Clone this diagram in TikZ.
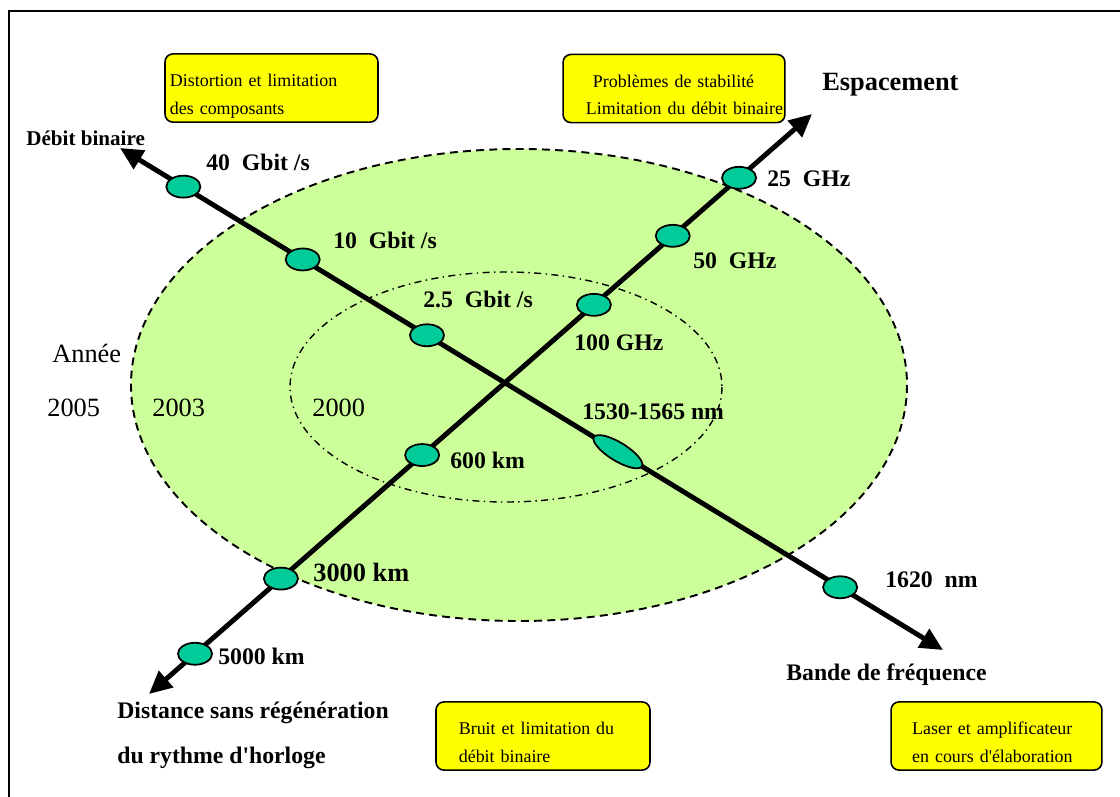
\documentclass[tikz,border=0pt]{standalone}
\usepackage{fontspec}
\setmainfont{Liberation Serif}
\usetikzlibrary{shapes.geometric,arrows.meta}
\definecolor{zone}{RGB}{204,255,153}
\definecolor{marker}{RGB}{0,204,153}
\definecolor{note}{RGB}{255,255,0}
\def\boxtop{\rule{0pt}{16.8pt}}
\def\boxbot{\rule[-2.6pt]{0pt}{0pt}}

\begin{document}
\begin{tikzpicture}[x=0.02cm,y=-0.02cm]
      \tikzstyle{axis}=[line width=2.8pt,{Triangle[length=13pt,width=12pt]}-{Triangle[length=13pt,width=12pt]}]
      \tikzstyle{point node}=[ellipse,draw,fill=marker,line width=1pt,minimum width=19.4pt,minimum height=12.5pt,inner sep=0pt]
      \tikzstyle{annot}=[anchor=west,inner sep=0pt,font=\bfseries\fontsize{13.5}{16}\selectfont]
      \tikzstyle{big annot}=[annot,font=\bfseries\fontsize{15}{18}\selectfont]
      \tikzstyle{year}=[anchor=west,inner sep=0pt,font=\fontsize{15}{18}\selectfont]
      \tikzstyle{note box}=[draw,fill=note,rounded corners=4.5pt,line width=0.9pt,align=left,inner ysep=2pt,minimum height=38.7pt,font=\fontsize{10.2}{15.4}\selectfont]

      \clip (0,0) rectangle (1120,796);
      \draw[line width=1.1pt] (9,11) rectangle (1140,820);

      % Draw the year zones
      \draw[fill=zone,line width=1.1pt,dash pattern=on 4.5pt off 3pt] (519,385) ellipse [x radius=388,y radius=236];
      \draw[line width=0.8pt,dash pattern=on 4pt off 2.5pt on 0.8pt off 2.5pt] (506,387) ellipse [x radius=216,y radius=115];

      \node[year] (year) at (52,353) {Année};
      \node[year] (y-2005) at (47,408) {2005};
      \node[year] (y-2003) at (152,408) {2003};
      \node[year] (y-2000) at (312,408) {2000};

      % Draw the two axes
      \coordinate (deb) at (120,148);
      \coordinate (bande) at (943,650);
      \coordinate (dist) at (149,694);
      \coordinate (esp) at (812,114);
      \draw[axis] (deb) -- (bande);
      \draw[axis] (dist) -- (esp);

      % Put the markers on the bit rate / band axis
      \foreach \name / \p in {1/0.077,2/0.222,3/0.373,5/0.875}
          \path (deb) -- (bande) node[point node,pos=\p] (B-\name) {};
      \path (deb) -- (bande) node[point node,pos=0.605,rotate=-31.4,minimum width=32pt,minimum height=10.5pt] (B-4) {};

      % Put the markers on the distance / spacing axis
      \foreach \name / \p in {1/0.0694,2/0.199,3/0.412,4/0.671,5/0.790,6/0.890}
          \path (dist) -- (esp) node[point node,pos=\p] (D-\name) {};

      % Annotate the markers
      \node[annot] (l-40) at (206,162) {40~~Gbit /s};
      \node[annot] (l-10) at (333,240) {10~~Gbit /s};
      \node[annot] (l-2) at (423,299) {2.5~~Gbit /s};
      \node[annot] (l-1530) at (582,412) {1530-1565 nm};
      \node[annot] (l-1620) at (885,580) {1620~~nm};
      \node[annot] (l-100) at (574,343) {100 GHz};
      \node[annot] (l-50) at (693,261) {50~~GHz};
      \node[annot] (l-25) at (767,179) {25~~GHz};
      \node[annot] (l-600) at (450,460) {600 km};
      \node[big annot] (l-3000) at (313,572) {3000 km};
      \node[annot] (l-5000) at (218,656) {5000 km};

      % Annotate the axes
      \node[annot,font=\bfseries\fontsize{12}{14}\selectfont] (t-deb) at (26,138) {Débit binaire};
      \node[big annot] (t-esp) at (822,85) {Espacement};
      \node[annot] (t-bande) at (786,675) {Bande de fréquence};
      \node[annot,align=left,font=\bfseries\fontsize{13.5}{25.6}\selectfont] (t-dist) at (117,735) {Distance sans régénération\\du rythme d\textquotesingle horloge};

      % The limitation boxes
      \node[note box,inner xsep=2.8pt,text width=115.6pt] (n-1) at (271.5,88) {\boxtop Distortion et limitation\\des composants\boxbot};
      \node[note box,inner xsep=13pt,text width=100.3pt] (n-2) at (674,88.5) {\boxtop\hspace*{4pt}Problèmes de stabilité\\\mbox{Limitation du débit binaire}\boxbot};
      \node[note box,inner xsep=13pt,text width=95.8pt] (n-3) at (543,736) {\boxtop Bruit et limitation du\\débit binaire\boxbot};
      \node[note box,inner xsep=12pt,text width=96pt] (n-4) at (996.5,736) {\boxtop Laser et amplificateur\\en cours d\textquotesingle élaboration\boxbot};
\end{tikzpicture}
\end{document}
